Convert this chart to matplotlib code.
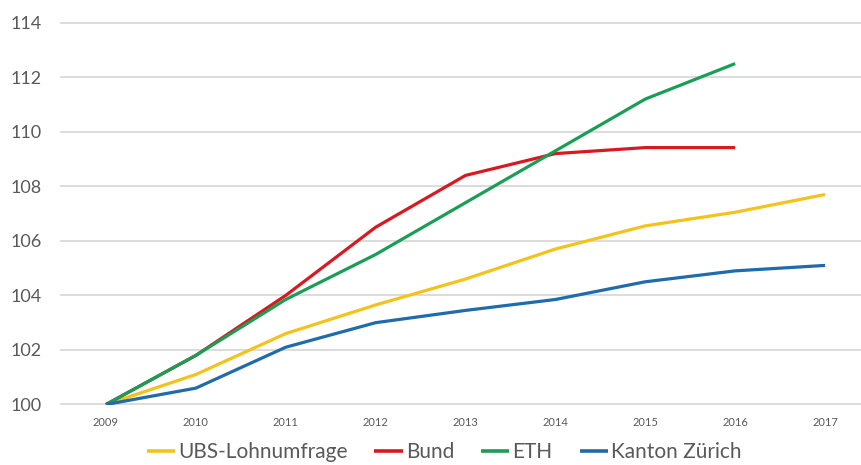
import matplotlib
matplotlib.use("Agg")
import matplotlib.pyplot as plt

years = [2009, 2010, 2011, 2012, 2013, 2014, 2015, 2016, 2017]
ubs = [100, 101.1, 102.6, 103.65, 104.6, 105.7, 106.55, 107.05, 107.7]
bund = [100, 101.8, 104.0, 106.5, 108.4, 109.2, 109.42, 109.42]
eth = [100, 101.8, 103.85, 105.5, 107.4, 109.3, 111.2, 112.5]
kanton = [100, 100.6, 102.1, 103.0, 103.45, 103.85, 104.5, 104.9, 105.1]
series = [("UBS-Lohnumfrage", ubs, "#F4C21B"),
          ("Bund", bund, "#D9191F"),
          ("ETH", eth, "#1A9E55"),
          ("Kanton Zürich", kanton, "#1F6BAB")]
yticks = [100, 102, 104, 106, 108, 110, 112, 114]

plt.rcParams['font.family'] = ['Lato', 'DejaVu Sans']

W, H = 862, 465
fig = plt.figure(figsize=(W / 100, H / 100), dpi=100)
ax = fig.add_axes([61 / W, 60.5 / H, (870 - 61) / W, (442.3 - 60.5) / H])

for name, vals, col in series:
    ax.plot(years[:len(vals)], vals, color=col, lw=2.3, label=name,
            solid_capstyle='butt', zorder=3)

ax.set_xlim(2008.5, 2017.5)
ax.set_ylim(100, 114)
ax.set_yticks(yticks)
ax.set_xticks(years)
ax.set_xticklabels([str(y) for y in years])
ax.grid(axis='y', color='#D9D9D9', lw=1.3, zorder=0)
for ln in ax.get_ygridlines():
    ln.set_clip_on(False)
for s in ax.spines.values():
    s.set_visible(False)
ax.tick_params(axis='y', length=0, pad=14, labelsize=13, labelcolor='#595959')
ax.tick_params(axis='x', length=0, pad=9, labelsize=8, labelcolor='#595959')

leg = fig.legend(loc='center', bbox_to_anchor=(444 / W, 1 - 452 / H), ncol=4,
                 frameon=False, fontsize=15, handlelength=1.35,
                 handletextpad=0.15, columnspacing=1.3, labelcolor='#595959')
for h in leg.legend_handles:
    h.set_linewidth(2.6)

fig.savefig("out.png", dpi=100, facecolor='white')
